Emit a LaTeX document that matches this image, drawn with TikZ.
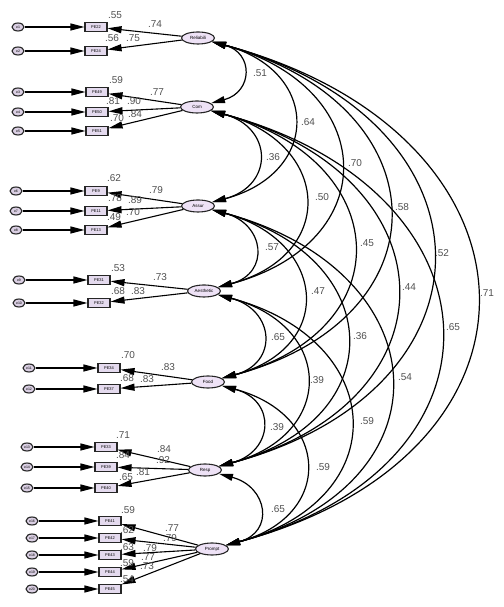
\documentclass[tikz,border=0pt]{standalone}
\usepackage{fontspec}
\setmainfont{Liberation Sans}
\usetikzlibrary{arrows.meta,shapes.geometric}
\definecolor{latfill}{HTML}{EEE2F6}
\definecolor{boxfill}{HTML}{E4DAEE}
\definecolor{errfill}{HTML}{D9CEE2}
\definecolor{lblcol}{HTML}{505050}
\begin{document}
\begin{tikzpicture}[x=1pt,y=1pt,
 latent/.style={ellipse, draw=black!85, line width=1.1pt, fill=latfill, minimum width=33pt, minimum height=12pt, inner sep=0pt, font=\fontsize{4.5}{5}\selectfont},
 obs/.style={rectangle, draw=black!85, line width=1.1pt, fill=boxfill, minimum width=22pt, minimum height=9pt, inner sep=0pt, font=\fontsize{4}{5}\selectfont},
 err/.style={ellipse, draw=black!85, line width=1.1pt, fill=errfill, minimum width=12pt, minimum height=8pt, inner sep=0pt, font=\fontsize{3.5}{4}\selectfont},
 val/.style={font=\fontsize{10}{11}\selectfont, text=lblcol, inner sep=0pt},
 arr/.style={line width=1.1pt, -{Triangle[length=14pt,width=7pt]}},
 cov/.style={line width=1.2pt, {Triangle[length=14pt,width=7pt]}-{Triangle[length=14pt,width=7pt]}},
]
\useasboundingbox (0,0) rectangle (503,607);
% latent variables
\node[latent] (Rel) at (198,569) {Reliabili};
\node[latent] (Com) at (197,500) {Com};
\node[latent] (Assur) at (198,401) {Assur};
\node[latent] (Aes) at (204,316) {Aesthetic};
\node[latent] (Food) at (208,225) {Food};
\node[latent] (Resp) at (205,137) {Resp};
\node[latent] (Prompt) at (212,58) {Prompt};
% observed
\node[obs] (PE22) at (96,580) {PE22};
\node[obs] (PE24) at (96,556) {PE24};
\node[obs] (PE49) at (97,515) {PE49};
\node[obs] (PE50) at (97,495) {PE50};
\node[obs] (PE51) at (97,476) {PE51};
\node[obs] (PE9) at (96,416) {PE9};
\node[obs] (PE11) at (96,396) {PE11};
\node[obs] (PE13) at (96,377) {PE13};
\node[obs] (PE31) at (99,327) {PE31};
\node[obs] (PE32) at (99,304) {PE32};
\node[obs] (PE34) at (109,239) {PE34};
\node[obs] (PE37) at (109,218) {PE37};
\node[obs] (PE33) at (106,160) {PE33};
\node[obs] (PE39) at (106,140) {PE39};
\node[obs] (PE40) at (106,119) {PE40};
\node[obs] (PE41) at (110,86) {PE41};
\node[obs] (PE42) at (110,69) {PE42};
\node[obs] (PE43) at (110,52) {PE43};
\node[obs] (PE44) at (110,35) {PE44};
\node[obs] (PE45) at (110,18) {PE45};
% errors
\node[err] (e1) at (18,580) {e1};
\node[err] (e2) at (18,556) {e2};
\node[err] (e3) at (18,515) {e3};
\node[err] (e4) at (18,495) {e4};
\node[err] (e5) at (18,476) {e5};
\node[err] (e6) at (16,416) {e6};
\node[err] (e7) at (16,396) {e7};
\node[err] (e8) at (16,377) {e8};
\node[err] (e9) at (19,327) {e9};
\node[err] (e10) at (19,304) {e10};
\node[err] (e11) at (29,239) {e11};
\node[err] (e12) at (29,218) {e12};
\node[err] (e13) at (27,160) {e13};
\node[err] (e14) at (27,140) {e14};
\node[err] (e15) at (27,119) {e15};
\node[err] (e16) at (32,86) {e16};
\node[err] (e17) at (32,69) {e17};
\node[err] (e18) at (32,52) {e18};
\node[err] (e19) at (32,35) {e19};
\node[err] (e20) at (32,18) {e20};
% error arrows
\foreach \e/\b in {e1/PE22,e2/PE24,e3/PE49,e4/PE50,e5/PE51,e6/PE9,e7/PE11,e8/PE13,e9/PE31,e10/PE32,e11/PE34,e12/PE37,e13/PE33,e14/PE39,e15/PE40,e16/PE41,e17/PE42,e18/PE43,e19/PE44,e20/PE45}
  \draw[arr] (\e) -- (\b);
% loadings
\foreach \l/\b in {Rel/PE22,Rel/PE24,Com/PE49,Com/PE50,Com/PE51,Assur/PE9,Assur/PE11,Assur/PE13,Aes/PE31,Aes/PE32,Food/PE34,Food/PE37,Resp/PE33,Resp/PE39,Resp/PE40,Prompt/PE41,Prompt/PE42,Prompt/PE43,Prompt/PE44,Prompt/PE45}
  \draw[arr] (\l) -- (\b);
% covariances
\foreach \a/\b in {Rel/Com,Rel/Assur,Rel/Aes,Rel/Food,Rel/Resp,Rel/Prompt,Com/Assur,Com/Aes,Com/Food,Com/Resp,Com/Prompt,Assur/Aes,Assur/Food,Assur/Resp,Assur/Prompt,Aes/Food,Aes/Resp,Aes/Prompt,Food/Resp,Food/Prompt,Resp/Prompt}
  \draw[cov] (\a) to[out=-15,in=15,looseness=1.8] (\b);
% measurement labels
\node[val] (v1) at (115,592) {.55};
\node[val] (v2) at (155,583) {.74};
\node[val] (v3) at (112,569) {.56};
\node[val] (v4) at (133,569) {.75};
\node[val] (v5) at (116,527) {.59};
\node[val] (v6) at (157,515) {.77};
\node[val] (v7) at (113,506) {.81};
\node[val] (v8) at (134,506) {.90};
\node[val] (v9) at (135,493) {.84};
\node[val] (v10) at (117,489) {.70};
\node[val] (v11) at (114,429) {.62};
\node[val] (v12) at (156,417) {.79};
\node[val] (v13) at (115,409) {.78};
\node[val] (v14) at (135,407) {.89};
\node[val] (v15) at (133,395) {.70};
\node[val] (v16) at (114,390) {.49};
\node[val] (v17) at (118,339) {.53};
\node[val] (v18) at (160,330) {.73};
\node[val] (v19) at (118,316) {.68};
\node[val] (v20) at (138,316) {.83};
\node[val] (v21) at (128,252) {.70};
\node[val] (v22) at (168,240) {.83};
\node[val] (v23) at (127,229) {.68};
\node[val] (v24) at (147,228) {.83};
\node[val] (v25) at (123,172) {.71};
\node[val] (v26) at (164,158) {.84};
\node[val] (v27) at (123,152) {.84};
\node[val] (v28) at (163,147) {.92};
\node[val] (v29) at (143,135) {.81};
\node[val] (v30) at (126,130) {.65};
\node[val] (v31) at (128,97) {.59};
\node[val] (v32) at (172,79) {.77};
\node[val] (v33) at (127,77) {.62};
\node[val] (v34) at (170,69) {.79};
\node[val] (v35) at (127,60) {.63};
\node[val] (v36) at (150,59) {.79};
\node[val] (v37) at (148,50) {.77};
\node[val] (v38) at (127,44) {.59};
\node[val] (v39) at (147,41) {.73};
\node[val] (v40) at (127,28) {.54};
% covariance labels
\node[val] (c1) at (260,534) {.51};
\node[val] (c2) at (308,485) {.64};
\node[val] (c3) at (355,444) {.70};
\node[val] (c4) at (402,400) {.58};
\node[val] (c5) at (442,354) {.52};
\node[val] (c6) at (487,314) {.71};
\node[val] (c7) at (273,450) {.36};
\node[val] (c8) at (322,410) {.50};
\node[val] (c9) at (367,364) {.45};
\node[val] (c10) at (409,320) {.44};
\node[val] (c11) at (453,280) {.65};
\node[val] (c12) at (272,360) {.57};
\node[val] (c13) at (318,316) {.47};
\node[val] (c14) at (360,271) {.36};
\node[val] (c15) at (405,230) {.54};
\node[val] (c16) at (278,270) {.65};
\node[val] (c17) at (317,227) {.39};
\node[val] (c18) at (367,186) {.59};
\node[val] (c19) at (277,180) {.39};
\node[val] (c20) at (323,140) {.59};
\node[val] (c21) at (278,98) {.65};
\end{tikzpicture}
\end{document}
